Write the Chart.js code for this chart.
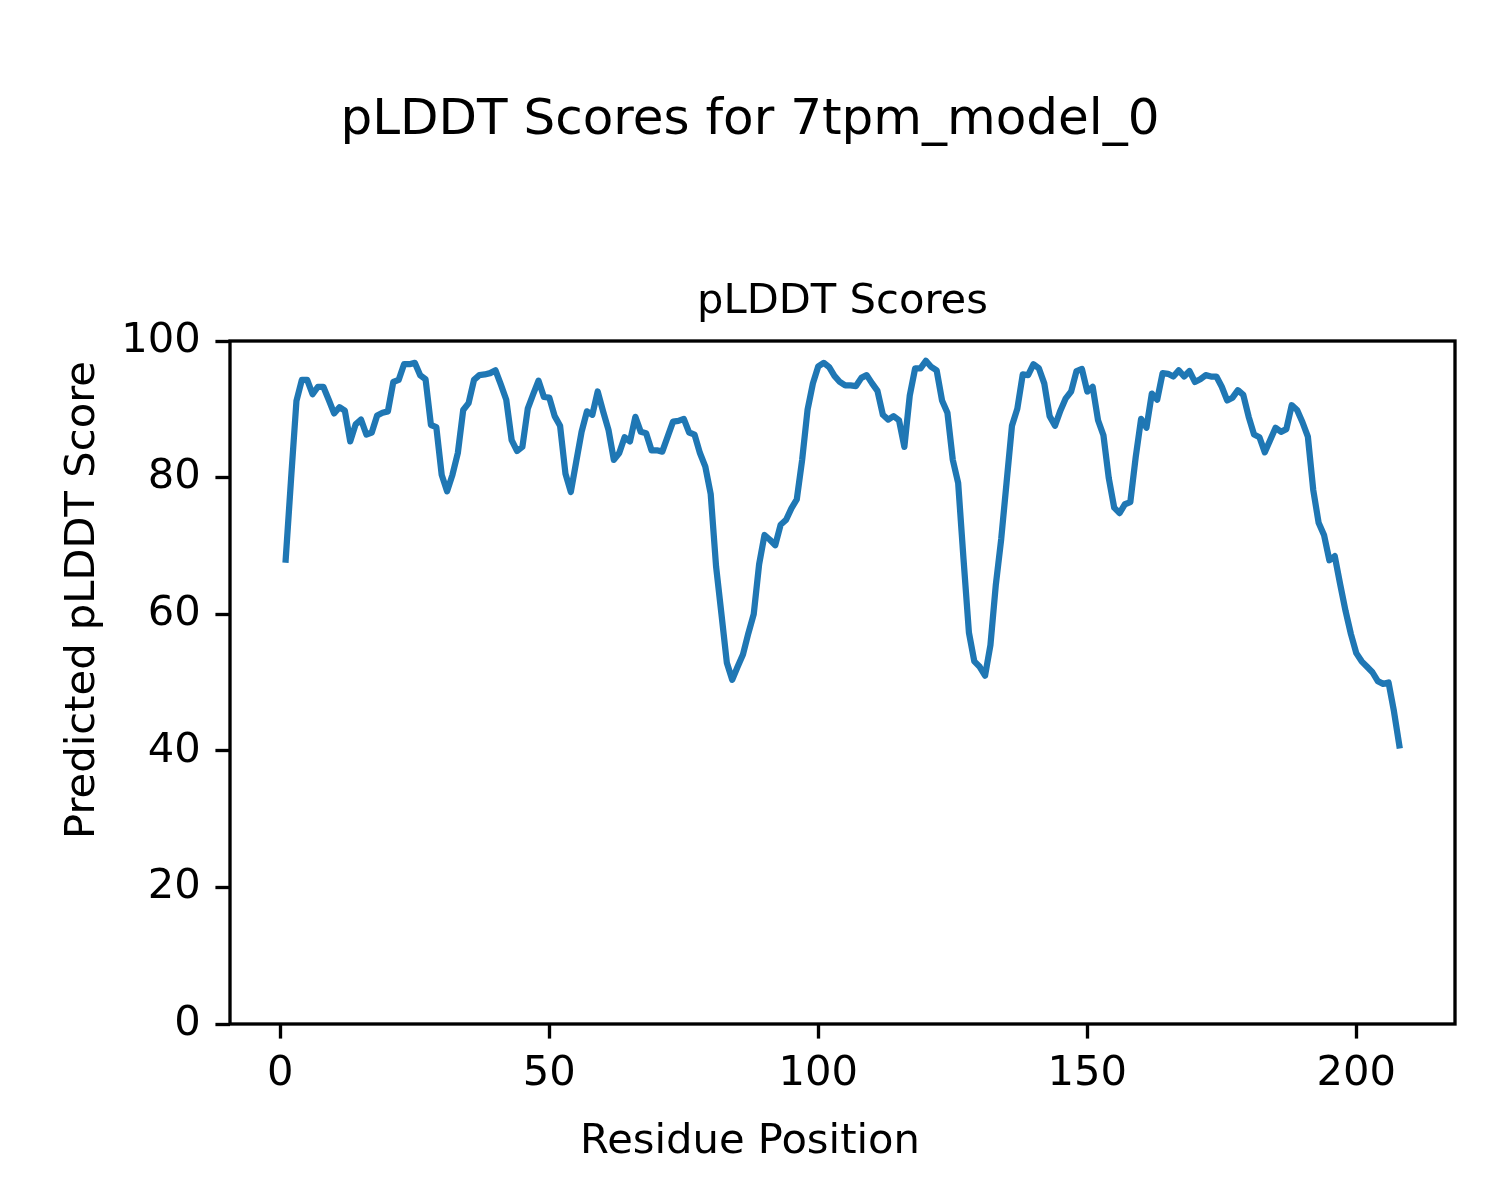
<!DOCTYPE html>
<html>
<head>
<meta charset="utf-8">
<title>pLDDT Scores for 7tpm_model_0</title>
<script src="https://cdn.jsdelivr.net/npm/chart.js@4.4.1/dist/chart.umd.min.js"></script>
<style>
  html, body { margin: 0; padding: 0; background: #fff; }
</style>
</head>
<body>
<canvas id="plddtChart" width="1500" height="1200"></canvas>
<script>
// per-residue pLDDT (residue 1 .. 208)
const scores = [
  68.0, 79.8, 91.2, 94.3, 94.3, 92.2, 93.3, 93.3, 91.4, 89.4,
  90.3, 89.8, 85.3, 87.8, 88.5, 86.3, 86.6, 89.1, 89.5, 89.7,
  94.0, 94.3, 96.6, 96.6, 96.8, 95.0, 94.4, 87.7, 87.4, 80.4,
  78.0, 80.4, 83.6, 89.9, 90.9, 94.3, 95.0, 95.1, 95.3, 95.7,
  93.6, 91.4, 85.5, 83.9, 84.5, 90.1, 92.2, 94.2, 91.8, 91.7,
  89.0, 87.6, 80.6, 77.9, 82.3, 86.7, 89.7, 89.2, 92.6, 89.7,
  87.0, 82.6, 83.6, 85.9, 85.3, 88.9, 86.7, 86.5, 84.0, 84.0,
  83.8, 86.0, 88.2, 88.3, 88.6, 86.6, 86.3, 83.6, 81.6, 77.6,
  67.0, 60.0, 52.9, 50.4, 52.3, 54.1, 57.2, 60.0, 67.3, 71.6,
  70.9, 70.1, 73.1, 73.8, 75.5, 76.8, 82.6, 89.9, 93.8, 96.3,
  96.8, 96.2, 94.9, 94.0, 93.5, 93.5, 93.4, 94.6, 95.0, 93.8,
  92.7, 89.2, 88.5, 89.0, 88.4, 84.5, 92.0, 96.0, 96.0, 97.1,
  96.2, 95.7, 91.3, 89.5, 82.6, 79.2, 68.0, 57.3, 53.1, 52.3,
  51.0, 55.5, 64.3, 71.0, 79.3, 87.6, 90.1, 95.1, 95.0, 96.6,
  96.0, 93.8, 89.0, 87.6, 89.8, 91.6, 92.6, 95.6, 95.9, 92.6,
  93.3, 88.4, 86.2, 79.9, 75.6, 74.8, 76.1, 76.4, 83.0, 88.6,
  87.3, 92.3, 91.4, 95.3, 95.2, 94.8, 95.7, 94.8, 95.6, 94.0,
  94.4, 95.0, 94.8, 94.8, 93.3, 91.3, 91.7, 92.8, 92.1, 88.9,
  86.3, 85.9, 83.7, 85.5, 87.3, 86.7, 87.1, 90.6, 89.9, 88.1,
  86.0, 78.2, 73.4, 71.6, 67.9, 68.5, 64.4, 60.5, 57.1, 54.3,
  53.1, 52.3, 51.5, 50.2, 49.8, 50.0, 45.8, 40.8
];
const residues = scores.map((s, i) => i + 1);

const xTicks = [0, 50, 100, 150, 200];
const yTicks = [0, 20, 40, 60, 80, 100];

const figTitle = 'pLDDT Scores for 7tpm_model_0';
const axTitle = 'pLDDT Scores';
const xLabel = 'Residue Position';
const yLabel = 'Predicted pLDDT Score';

// figure was 5x4 in at 300 dpi, so 1pt = 300/72 px
const PT = 300 / 72;
const FONT = 'DejaVu Sans';

Chart.defaults.font.family = FONT;
Chart.defaults.color = '#000';

// supxlabel / supylabel: centred on the figure, not on the axes
const figLabels = {
  id: 'figLabels',
  afterDraw(chart) {
    const ctx = chart.ctx;
    ctx.save();
    ctx.fillStyle = '#000';
    ctx.font = (10 * PT) + 'px "' + FONT + '"';
    ctx.textAlign = 'center';
    ctx.textBaseline = 'alphabetic';
    ctx.fillText(xLabel, chart.width / 2, 1153);
    ctx.translate(94, chart.height / 2);
    ctx.rotate(-Math.PI / 2);
    ctx.fillText(yLabel, 0, 0);
    ctx.restore();
  }
};

// the four spines
const frame = {
  id: 'frame',
  afterDraw(chart) {
    const a = chart.chartArea;
    const ctx = chart.ctx;
    ctx.save();
    ctx.strokeStyle = '#000';
    ctx.lineWidth = 0.8 * PT;
    ctx.strokeRect(a.left, a.top, a.right - a.left, a.bottom - a.top);
    ctx.restore();
  }
};

const tickGrid = {
  drawOnChartArea: false,
  drawTicks: true,
  tickLength: 3.5 * PT,
  tickWidth: 0.8 * PT,
  tickColor: '#000'
};

new Chart('plddtChart', { //eslint-disable-line
  type: 'line',
  data: {
    datasets: [{
      label: 'pLDDT',
      data: residues.map((r, i) => ({ x: r, y: scores[i] })),
      borderColor: '#1f77b4',
      borderWidth: 1.5 * PT,
      borderJoinStyle: 'round',
      borderCapStyle: 'square',
      pointRadius: 0,
      tension: 0,
      fill: false
    }]
  },
  options: {
    responsive: false,
    devicePixelRatio: 1,
    animation: false,
    // symmetric side padding keeps the suptitle centred on the figure
    layout: { padding: { left: 45, right: 45, top: 0, bottom: 0 } },
    plugins: {
      legend: { display: false },
      tooltip: { enabled: false },
      title: {
        display: true,
        text: figTitle,
        color: '#000',
        font: { size: 12 * PT, weight: 'normal' },
        padding: { top: 91, bottom: 126 }
      },
      subtitle: {
        display: true,
        text: axTitle,
        fullSize: false,
        color: '#000',
        font: { size: 10 * PT, weight: 'normal' },
        padding: { top: 0, bottom: 14 }
      }
    },
    scales: {
      x: {
        type: 'linear',
        min: -9.35,
        max: 218.35,
        afterBuildTicks: (scale) => { scale.ticks = xTicks.map(v => ({ value: v })); },
        afterFit: (scale) => { scale.height = 176; },
        border: { display: false },
        grid: tickGrid,
        ticks: {
          color: '#000',
          font: { size: 10 * PT },
          padding: 11,
          maxRotation: 0,
          autoSkip: false
        }
      },
      y: {
        type: 'linear',
        min: 0,
        max: 100,
        afterBuildTicks: (scale) => { scale.ticks = yTicks.map(v => ({ value: v })); },
        afterFit: (scale) => { scale.width = 185; },
        border: { display: false },
        grid: tickGrid,
        ticks: {
          color: '#000',
          font: { size: 10 * PT },
          padding: 3.5 * PT,
          autoSkip: false
        }
      }
    }
  },
  plugins: [figLabels, frame]
});
</script>
</body>
</html>
